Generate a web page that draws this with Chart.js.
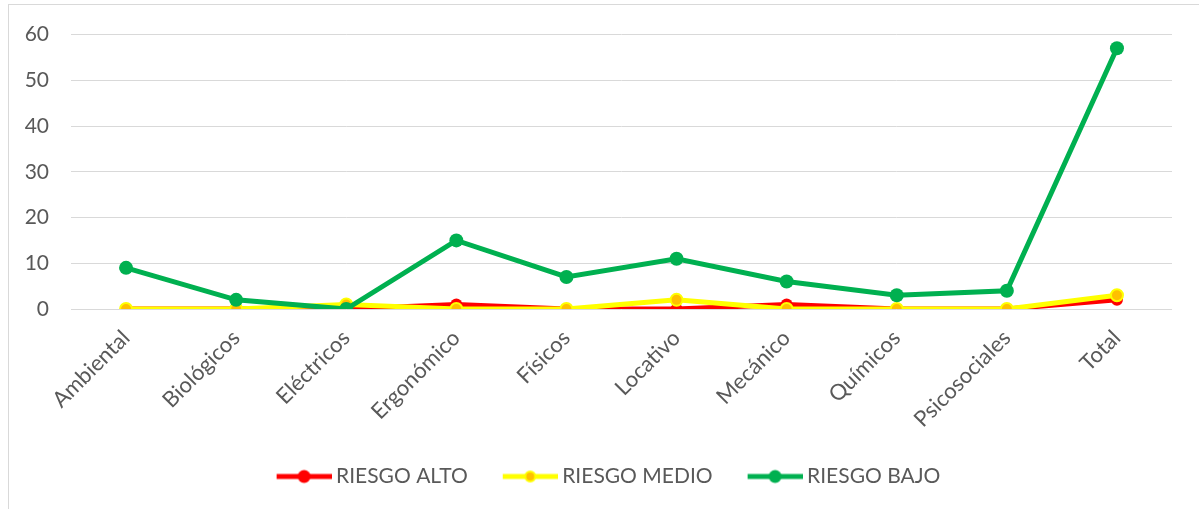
<!DOCTYPE html>
<html>
<head>
<meta charset="utf-8">
<script src="https://cdn.jsdelivr.net/npm/chart.js@4.4.1/dist/chart.umd.min.js"></script>
<style>
  html, body { margin: 0; padding: 0; background: #fff; overflow: hidden; width: 1199px; height: 509px; }
  #frame { position: absolute; left: 8px; top: 4px; width: 1250px; height: 600px; border: 1px solid #d9d9d9; box-sizing: border-box; }
  #wrap { position: absolute; left: 0; top: 0; width: 1199px; height: 509px; }
</style>
</head>
<body>
<div id="frame"></div>
<div id="wrap"><canvas id="c" width="1199" height="509"></canvas></div>
<script>
const categories = ["Ambiental", "Biológicos", "Eléctricos", "Ergonómico", "Físicos", "Locativo", "Mecánico", "Químicos", "Psicosociales", "Total"];
const riesgoAlto  = [0, 0, 0, 1, 0, 0, 1, 0, 0, 2];
const riesgoMedio = [0, 0, 1, 0, 0, 2, 0, 0, 0, 3];
const riesgoBajo  = [9, 2, 0, 15, 7, 11, 6, 3, 4, 57];
const yTicks = [0, 10, 20, 30, 40, 50, 60];
const seriesNames = ["RIESGO ALTO", "RIESGO MEDIO", "RIESGO BAJO"];

const FONT = "Lato";
const TXT = "#595959";
const FS = 21;

function legendIcon(lineColor, fill, border, r, bw) {
  const W = 86, H = 18;
  const L0 = 31, L1 = 86;
  const cv = document.createElement('canvas');
  cv.width = W; cv.height = H;
  const ctx = cv.getContext('2d');
  ctx.strokeStyle = lineColor; ctx.lineWidth = 5; ctx.lineCap = 'butt';
  ctx.beginPath(); ctx.moveTo(L0, H / 2); ctx.lineTo(L1, H / 2); ctx.stroke();
  ctx.beginPath(); ctx.arc((L0 + L1) / 2, H / 2, r, 0, Math.PI * 2);
  ctx.fillStyle = fill; ctx.fill();
  if (bw) { ctx.lineWidth = bw; ctx.strokeStyle = border; ctx.stroke(); }
  return cv;
}
const icons = [
  legendIcon('#FF0000', '#FF0000', '#FF0000', 6.5, 0),
  legendIcon('#FFFF00', '#FFC000', '#FFFF00', 5, 2),
  legendIcon('#00B050', '#00B050', '#00B050', 6.5, 0)
];

new Chart(document.getElementById('c'), {
  type: 'line',
  data: {
    labels: categories,
    datasets: [
      { label: seriesNames[0], data: riesgoAlto, borderColor: '#FF0000', backgroundColor: '#FF0000',
        pointBackgroundColor: '#FF0000', pointBorderColor: '#FF0000', borderWidth: 5, pointRadius: 6, pointBorderWidth: 0, tension: 0, order: 3 },
      { label: seriesNames[1], data: riesgoMedio, borderColor: '#FFFF00', backgroundColor: '#FFFF00',
        pointBackgroundColor: '#FFC000', pointBorderColor: '#FFFF00', borderWidth: 5, pointRadius: 6, pointBorderWidth: 2, tension: 0, order: 2 },
      { label: seriesNames[2], data: riesgoBajo, borderColor: '#00B050', backgroundColor: '#00B050',
        pointBackgroundColor: '#00B050', pointBorderColor: '#00B050', borderWidth: 5, pointRadius: 7, pointBorderWidth: 0, tension: 0, order: 1 }
    ]
  },
  options: {
    responsive: false,
    animation: false,
    events: [],
    layout: { padding: { top: 33, right: 27, bottom: 12, left: 20 } },
    plugins: {
      tooltip: { enabled: false },
      legend: {
        position: 'bottom',
        labels: {
          usePointStyle: true,
          pointStyleWidth: 74,
          padding: 10,
          color: TXT,
          font: { family: FONT, size: FS },
          generateLabels: (chart) => {
            const items = Chart.defaults.plugins.legend.labels.generateLabels(chart);
            items.sort((a, b) => a.datasetIndex - b.datasetIndex);
            items.forEach(it => { it.pointStyle = icons[it.datasetIndex]; });
            return items;
          }
        }
      }
    },
    scales: {
      x: {
        offset: true,
        grid: { display: false, drawTicks: false },
        border: { display: false },
        ticks: { color: TXT, font: { family: FONT, size: 22 }, maxRotation: 45, minRotation: 45, padding: 16, autoSkip: false },
        afterFit: (s) => { s.height = 147; }
      },
      y: {
        min: 0, max: 60,
        afterBuildTicks: (s) => { s.ticks = yTicks.map(v => ({ value: v })); },
        grid: { color: '#d9d9d9', lineWidth: 1, drawTicks: false },
        border: { display: false },
        ticks: { color: TXT, font: { family: FONT, size: FS }, padding: 22 },
        afterFit: (s) => { s.width = 51; }
      }
    }
  }
});
</script>
</body>
</html>
